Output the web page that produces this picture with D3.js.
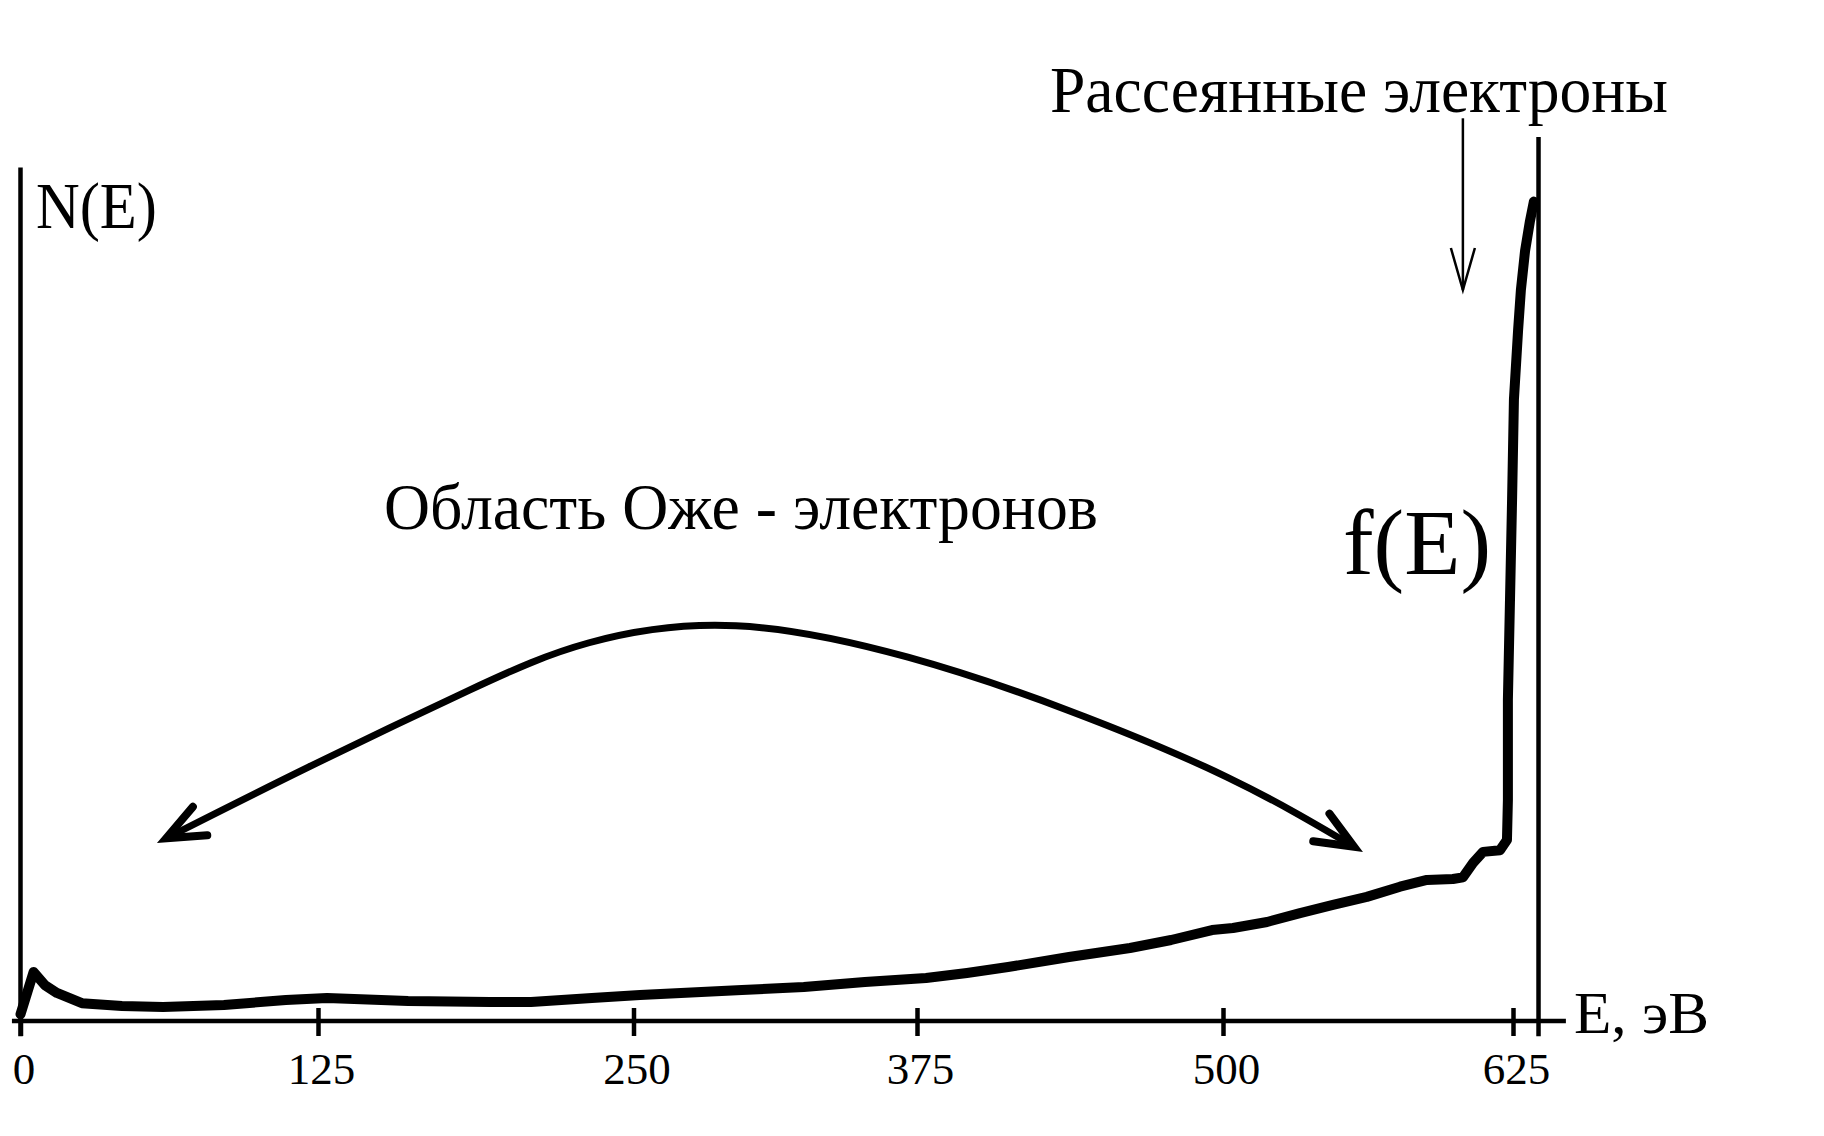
<!DOCTYPE html>
<html>
<head>
<meta charset="utf-8">
<script src="https://cdn.jsdelivr.net/npm/d3@7"></script>
<style>
  html, body { margin: 0; padding: 0; background: #ffffff; }
  svg { display: block; }
  text { font-family: "Liberation Serif", "Times New Roman", serif; fill: #000; }
</style>
</head>
<body>
<svg id="chart" width="1824" height="1136"></svg>
<script>
// ---------------- DATA ----------------
const energyTicks = [0, 125, 250, 375, 500, 625];            // E, эВ
const tickLabels  = ["0", "125", "250", "375", "500", "625"];

// N(E) spectrum, arbitrary units
const spectrumE = [0, 5.5, 10.3, 15.3, 25.8, 42.6, 59.9, 85.5, 111.5, 128.6, 160.7, 193.1, 209.4,
                   233.5, 252.9, 270.9, 297.8, 325.1, 352, 378.7, 395.4, 412.2, 437.1, 462, 478.8,
                   495.5, 504.3, 519, 533.2, 547.4, 562, 576.3, 587.9, 599.1, 603.4, 607.8, 612.1,
                   619.4, 622.4, 622.8, 622.8, 623.7, 624.6, 625.4, 627.2, 628.4, 630.2, 632.3, 634.0];
const spectrumN = [0.8, 5.76, 4.2, 3.3, 2.1, 1.76, 1.65, 1.88, 2.47, 2.7, 2.35, 2.24, 2.24,
                   2.7, 3.06, 3.3, 3.65, 4.0, 4.59, 5.06, 5.65, 6.35, 7.53, 8.59, 9.53,
                   10.7, 10.94, 11.65, 12.7, 13.65, 14.6, 15.8, 16.6, 16.7, 16.9, 18.6, 19.9,
                   20.1, 21.3, 26.0, 37.8, 49.5, 61.3, 73.1, 81.3, 86.0, 90.6, 94.1, 96.4];

// primary-energy boundary line
const primaryE = 636;

// annotation: "Рассеянные электроны" arrow (data units)
const scatterArrowE = [603.4, 603.4];
const scatterArrowN = [106.2, 86.0];

// annotation: Auger region double arrow (data units)
const augerArcE = [61.2, 121.2, 184.8, 232.4, 295.2, 371.0, 436.3, 501.7, 556.5];
const augerArcN = [21.5, 29.9, 38.9, 44.5, 46.5, 42.8, 36.6, 28.7, 20.5];

// texts
const yAxisTitle   = "N(E)";
const xAxisTitle   = "E, эВ";
const curveLabel   = "f(E)";
const scatterLabel = "Рассеянные электроны";
const augerLabel   = "Область Оже - электронов";

// ---------------- LAYOUT ----------------
const tickPx = [20.5, 318, 633.5, 917, 1223, 1513];   // hand-drawn tick spacing
const x = d3.scaleLinear().domain(energyTicks).range(tickPx);
const y = d3.scaleLinear().domain([0, 100]).range([1021, 171]);

const svg = d3.select("#chart");
svg.append("rect").attr("width", 1824).attr("height", 1136).attr("fill", "#fff");

const defs = svg.append("defs");
defs.append("marker")
  .attr("id", "thinHead").attr("markerUnits", "userSpaceOnUse")
  .attr("markerWidth", 100).attr("markerHeight", 100)
  .attr("refX", 0).attr("refY", 0).attr("orient", "auto")
  .style("overflow", "visible")
  .append("path").attr("d", "M-42,-12 L0,0 L-42,12")
  .attr("fill", "none").attr("stroke", "#000").attr("stroke-width", 2.5);

defs.append("marker")
  .attr("id", "boldHead").attr("markerUnits", "userSpaceOnUse")
  .attr("markerWidth", 100).attr("markerHeight", 100)
  .attr("refX", 0).attr("refY", 0).attr("orient", "auto-start-reverse")
  .style("overflow", "visible")
  .append("path").attr("d", "M-38,-16 L0,0 L-38,16")
  .attr("fill", "none").attr("stroke", "#000").attr("stroke-width", 8)
  .attr("stroke-linecap", "round").attr("stroke-linejoin", "miter");

// ---- axes ----
const xAxisDown = d3.axisBottom(x).tickValues(energyTicks)
  .tickFormat((d, i) => tickLabels[i]).tickSize(15).tickPadding(10);
const gxd = svg.append("g").attr("transform", `translate(0,${y(0)})`).call(xAxisDown);
gxd.select(".domain").remove();
gxd.selectAll(".tick line").attr("stroke", "#000").attr("stroke-width", 4.5);
gxd.selectAll(".tick text")
  .attr("y", 63).attr("dy", 0).attr("x", 3)
  .style("font-family", '"Liberation Serif","Times New Roman",serif')
  .style("font-size", "45px").attr("fill", "#000");

const xAxisUp = d3.axisTop(x).tickValues(energyTicks).tickFormat("").tickSize(13);
const gxu = svg.append("g").attr("transform", `translate(0,${y(0)})`).call(xAxisUp);
gxu.select(".domain").remove();
gxu.selectAll(".tick line").attr("stroke", "#000").attr("stroke-width", 4.5);

// x-axis line
svg.append("line")
  .attr("x1", x(-3.6)).attr("x2", x(647.8))
  .attr("y1", y(0)).attr("y2", y(0))
  .attr("stroke", "#000").attr("stroke-width", 4.5);

// y-axis line
svg.append("line")
  .attr("x1", x(0)).attr("x2", x(0))
  .attr("y1", y(100.4)).attr("y2", y(-1.8))
  .attr("stroke", "#000").attr("stroke-width", 4.5);

// primary energy line
svg.append("line")
  .attr("x1", x(primaryE)).attr("x2", x(primaryE))
  .attr("y1", y(104)).attr("y2", y(-1.8))
  .attr("stroke", "#000").attr("stroke-width", 4.5);

// ---- spectrum curve ----
const spectrum = spectrumE.map((e, i) => ({ e, n: spectrumN[i] }));
svg.append("path")
  .datum(spectrum)
  .attr("d", d3.line().x(d => x(d.e)).y(d => y(d.n)).curve(d3.curveLinear))
  .attr("fill", "none").attr("stroke", "#000")
  .attr("stroke-width", 10).attr("stroke-linejoin", "round").attr("stroke-linecap", "round");

// ---- annotations ----
const scatterPts = scatterArrowE.map((e, i) => ({ e, n: scatterArrowN[i] }));
svg.append("path")
  .datum(scatterPts)
  .attr("d", d3.line().x(d => x(d.e)).y(d => y(d.n)))
  .attr("fill", "none").attr("stroke", "#000").attr("stroke-width", 2.5)
  .attr("marker-end", "url(#thinHead)");

const arcPts = augerArcE.map((e, i) => ({ e, n: augerArcN[i] }));
svg.append("path")
  .datum(arcPts)
  .attr("d", d3.line().x(d => x(d.e)).y(d => y(d.n)).curve(d3.curveNatural))
  .attr("fill", "none").attr("stroke", "#000").attr("stroke-width", 7)
  .attr("marker-start", "url(#boldHead)").attr("marker-end", "url(#boldHead)");

// ---- texts ----
function label(txt, xPos, yPos, size, len) {
  svg.append("text")
    .attr("x", xPos).attr("y", yPos)
    .attr("font-size", size)
    .attr("textLength", len).attr("lengthAdjust", "spacingAndGlyphs")
    .text(txt);
}
label(yAxisTitle,   36,   228, 66, 121);
label(scatterLabel, 1050, 112, 66, 618);
label(augerLabel,   384,  529, 66, 714);
label(curveLabel,   1343, 574, 94, 148);
label(xAxisTitle,   1574, 1033, 60, 135);
</script>
</body>
</html>
